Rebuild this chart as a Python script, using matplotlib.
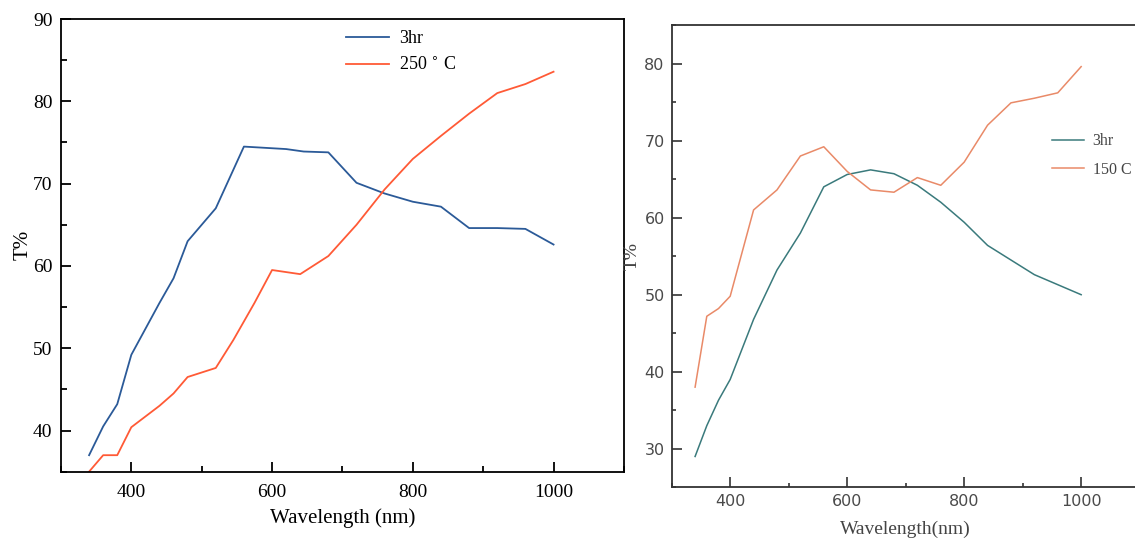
import numpy as np
import matplotlib.pyplot as plt
from matplotlib.ticker import MultipleLocator

# Left panel data (annealing time 3 hr, 250 C)
wl_left_a = [340, 360, 380, 400, 440, 460, 480, 520, 560, 580, 620, 645, 680, 720, 760, 800, 840, 880, 920, 960, 1000]
t_left_a = [37.0, 40.5, 43.2, 49.2, 55.5, 58.5, 63.0, 67.0, 74.5, 74.4, 74.2, 73.9, 73.8, 70.1, 68.8, 67.8, 67.2, 64.6, 64.6, 64.5, 62.6]

wl_left_b = [340, 360, 380, 400, 440, 460, 480, 520, 545, 575, 600, 640, 680, 720, 760, 800, 840, 880, 920, 960, 1000]
t_left_b = [35.0, 37.0, 37.0, 40.4, 43.0, 44.5, 46.5, 47.6, 51.0, 55.5, 59.5, 59.0, 61.2, 65.0, 69.3, 73.0, 75.8, 78.5, 81.0, 82.1, 83.6]

# Right panel data (3 hr, 150 C)
wl_right_a = [340, 360, 380, 400, 440, 480, 520, 560, 600, 640, 680, 720, 760, 800, 840, 880, 920, 960, 1000]
t_right_a = [29.0, 33.0, 36.3, 39.0, 46.8, 53.2, 58.0, 64.0, 65.6, 66.2, 65.7, 64.2, 62.0, 59.4, 56.4, 54.5, 52.6, 51.3, 50.0]

wl_right_b = [340, 360, 380, 400, 440, 480, 520, 560, 600, 640, 680, 720, 760, 800, 840, 880, 920, 960, 1000]
t_right_b = [38.0, 47.2, 48.2, 49.8, 61.0, 63.6, 68.0, 69.2, 66.0, 63.6, 63.3, 65.2, 64.2, 67.2, 72.0, 74.9, 75.5, 76.2, 79.6]

fig = plt.figure(figsize=(11.35, 5.44), dpi=100)

# ---- left panel ----
serif = ["Liberation Serif", "DejaVu Serif"]
ax1 = fig.add_axes([0.0537, 0.133, 0.496, 0.832])
ax1.plot(wl_left_a, t_left_a, color="#2b5a98", lw=1.3, label="3hr")
ax1.plot(wl_left_b, t_left_b, color="#ff5a36", lw=1.3, label="250 $^{\\circ}$ C")
ax1.set_xlim(300, 1100)
ax1.set_ylim(35, 90)
ax1.xaxis.set_major_locator(MultipleLocator(200))
ax1.xaxis.set_minor_locator(MultipleLocator(100))
ax1.yaxis.set_major_locator(MultipleLocator(10))
ax1.yaxis.set_minor_locator(MultipleLocator(5))
ax1.tick_params(which="both", direction="in", top=False, right=False, width=1.3)
ax1.tick_params(which="major", length=7, labelsize=14, pad=6)
ax1.tick_params(axis="x", which="major", pad=9)
ax1.tick_params(which="minor", length=4)
for lab in ax1.get_xticklabels() + ax1.get_yticklabels():
    lab.set_family(serif)
for s in ax1.spines.values():
    s.set_linewidth(1.3)
ax1.set_xlabel("Wavelength (nm)", family=serif, fontsize=15, labelpad=5)
ax1.set_ylabel("T%", family=serif, fontsize=15, labelpad=0)
ax1.legend(loc="upper left", bbox_to_anchor=(0.477, 1.012), frameon=False,
           prop={"family": serif, "size": 13}, handlelength=2.4,
           handletextpad=0.55, labelspacing=0.55)

# ---- right panel ----
grey = "#4a4a4a"
ax2 = fig.add_axes([0.5918, 0.1042, 0.4123, 0.8498])
ax2.plot(wl_right_a, t_right_a, color="#3a7a7c", lw=1.1, label="3hr")
ax2.plot(wl_right_b, t_right_b, color="#e98a68", lw=1.1, label="150 C")
ax2.set_xlim(300, 1100)
ax2.set_ylim(25, 85)
ax2.xaxis.set_major_locator(MultipleLocator(200))
ax2.xaxis.set_minor_locator(MultipleLocator(100))
ax2.yaxis.set_major_locator(MultipleLocator(10))
ax2.yaxis.set_minor_locator(MultipleLocator(5))
ax2.tick_params(which="both", direction="in", top=False, right=False,
                width=1.2, colors="#333333", labelcolor=grey)
ax2.tick_params(which="major", length=7, labelsize=11.5, pad=5)
ax2.tick_params(which="minor", length=3)
for s in ax2.spines.values():
    s.set_linewidth(1.3)
    s.set_color("#333333")
ax2.set_xlabel("Wavelength(nm)", family=serif, fontsize=14, color="#444444", labelpad=8)
ax2.set_ylabel("T%", family=serif, fontsize=14, color="#444444", labelpad=3)
ax2.legend(loc="upper left", bbox_to_anchor=(0.782, 0.797), frameon=False,
           prop={"family": serif, "size": 11.5}, handlelength=2.0,
           handletextpad=0.55, labelspacing=0.8, labelcolor="#444444")

fig.savefig("out.png", dpi=100)
